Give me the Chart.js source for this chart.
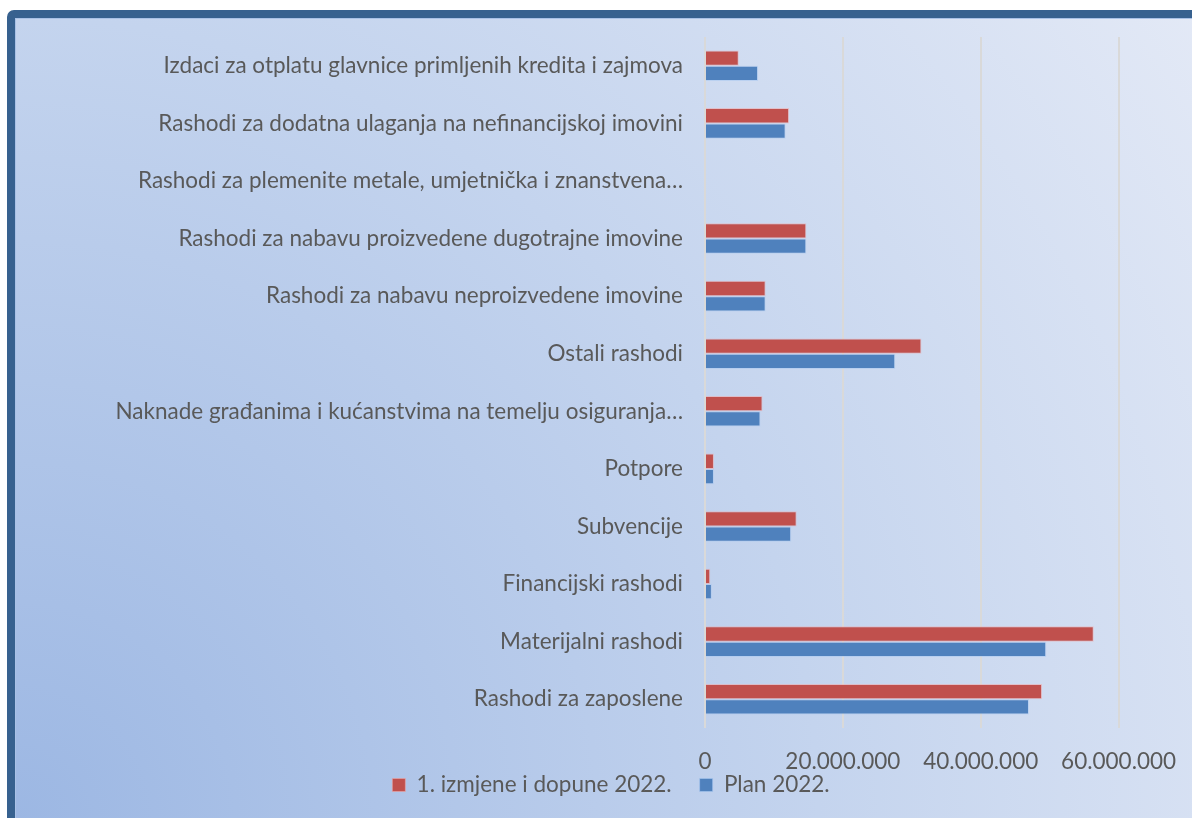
<!DOCTYPE html>
<html><head><meta charset="utf-8">
<script src="https://cdn.jsdelivr.net/npm/chart.js@4.4.1/dist/chart.umd.min.js"></script>
<style>
html,body{margin:0;padding:0;width:1192px;height:818px;overflow:hidden;background:#fff;}
#frame{position:absolute;left:7px;top:10px;width:1205px;height:820px;box-sizing:border-box;border:8px solid #37618f;border-radius:7px;
background:radial-gradient(circle farthest-corner at 0% 100%, #9cb7e3 0%, #c4d4ee 56%, #e3e9f6 100%);box-shadow:inset 0 0 0 1px #a9c1e6;}
#wrap{position:absolute;left:0;top:0;width:1222px;height:818px;}
</style></head><body>
<div id="frame"></div>
<div id="wrap"><canvas id="c"></canvas></div>
<script>
const categories = [
  "Izdaci za otplatu glavnice primljenih kredita i zajmova",
  "Rashodi za dodatna ulaganja na nefinancijskoj imovini",
  "Rashodi za plemenite metale, umjetnička i znanstvena…",
  "Rashodi za nabavu proizvedene dugotrajne imovine",
  "Rashodi za nabavu neproizvedene imovine",
  "Ostali rashodi",
  "Naknade građanima i kućanstvima na temelju osiguranja…",
  "Potpore",
  "Subvencije",
  "Financijski rashodi",
  "Materijalni rashodi",
  "Rashodi za zaposlene"
];
const seriesNames = ["1. izmjene i dopune 2022.", "Plan 2022."];
const izmjene = [4900000, 12200000, 0, 14700000, 8800000, 31400000, 8350000, 1300000, 13300000, 760000, 56400000, 48900000];
const plan    = [7700000, 11700000, 0, 14700000, 8800000, 27600000, 8050000, 1300000, 12500000, 1000000, 49500000, 47000000];
const tickValues = [0, 20000000, 40000000, 60000000];

function fmt(v){ return String(v).replace(/\B(?=(\d{3})+(?!\d))/g, '.'); }

const FAMILY = 'Lato';
const mctx = document.createElement('canvas').getContext('2d');
mctx.font = '20px ' + FAMILY;
const fs = Math.round(20 * 520 / mctx.measureText(categories[0]).width * 10) / 10;
const font = {family: FAMILY, size: fs};
const textColor = '#595959';

const H = 818, plotTop = 37, plotBottom = 728, plotLeft = 705;
const legPad = 28;
const padBottom = 23 - fs / 2;
const legendH = fs + legPad + 10;

new Chart(document.getElementById('c'), {
  type: 'bar',
  data: {
    labels: categories,
    datasets: [
      {label: seriesNames[0], data: izmjene, backgroundColor: '#c0504d', borderColor: 'rgba(240,170,170,0.55)', borderWidth: 1},
      {label: seriesNames[1], data: plan, backgroundColor: '#4f81bd', borderColor: 'rgba(170,200,240,0.55)', borderWidth: 1}
    ]
  },
  options: {
    indexAxis: 'y',
    responsive: true,
    maintainAspectRatio: false,
    animation: false,
    categoryPercentage: 0.532,
    barPercentage: 1,
    layout: {padding: {top: plotTop, left: 0, right: 0, bottom: padBottom}},
    scales: {
      x: {
        type: 'linear', min: 0, max: 75000000, position: 'bottom',
        grid: {color: '#d9d9d9', lineWidth: 2, drawTicks: false},
        border: {display: false},
        ticks: {stepSize: 20000000, padding: 20, color: textColor, font: font, callback: v => fmt(v)},
        afterBuildTicks: s => { s.ticks = tickValues.map(v => ({value: v})); },
        afterFit: s => {
          s.height = H - padBottom - legendH - plotBottom;
          s._computeLabelArea = () => undefined;
        }
      },
      y: {
        type: 'category',
        grid: {display: false},
        border: {display: false},
        ticks: {padding: 14, color: textColor, font: font, autoSkip: false},
        afterFit: s => { s.width = plotLeft; }
      }
    },
    plugins: {
      legend: {
        position: 'bottom',
        labels: {boxWidth: 13, boxHeight: 13, padding: legPad, color: textColor, font: font}
      },
      tooltip: {enabled: false}
    }
  }
});
</script>
</body></html>
